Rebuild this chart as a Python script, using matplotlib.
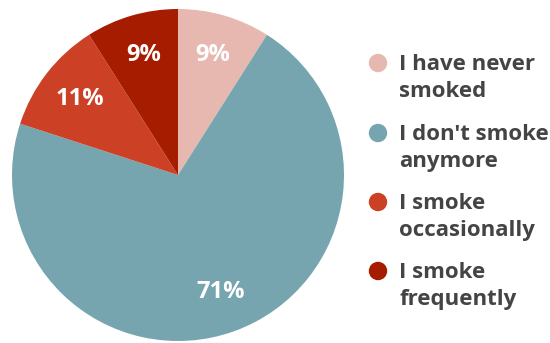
import matplotlib
matplotlib.use("Agg")
import matplotlib.pyplot as plt

labels = ["I have never\nsmoked", "I don't smoke\nanymore", "I smoke\noccasionally", "I smoke\nfrequently"]
shares = [9, 71, 11, 9]
colors = ["#E6B8AF", "#76A5AF", "#CC4125", "#A61C00"]

plt.rcParams["font.family"] = ["Open Sans", "DejaVu Sans"]

fig = plt.figure(figsize=(5.5, 3.43), dpi=100)
# pie centred at (178, 175) px, radius ~166 px
cx, cy, r = 178 / 550, 1 - 175 / 343, 166
ax = fig.add_axes([cx - r / 550, cy - r / 343, 2 * r / 550, 2 * r / 343])
wedges, _, autotexts = ax.pie(shares, colors=colors, startangle=90, counterclock=False,
                              autopct="%d%%", pctdistance=0.75, radius=1,
                              wedgeprops=dict(linewidth=0))
for t in autotexts:
    t.set_color("white"); t.set_fontsize(17); t.set_fontweight("bold")
ax.set_xlim(-1, 1); ax.set_ylim(-1, 1); ax.set_aspect("equal"); ax.axis("off")

# legend drawn by hand: dot + two-line bold label
top_y = [63, 133, 202, 271]
for lab, col, y in zip(labels, colors, top_y):
    fy = 1 - y / 343
    fig.patches.append(matplotlib.patches.Ellipse((378 / 550, fy), 17 / 550, 17 / 343,
                                                  transform=fig.transFigure, color=col))
    fig.text(399 / 550, fy + 9 / 343, lab, ha="left", va="top", fontsize=16,
             fontweight="bold", color="#444444", linespacing=1.35)

fig.savefig("out.png", dpi=100)
